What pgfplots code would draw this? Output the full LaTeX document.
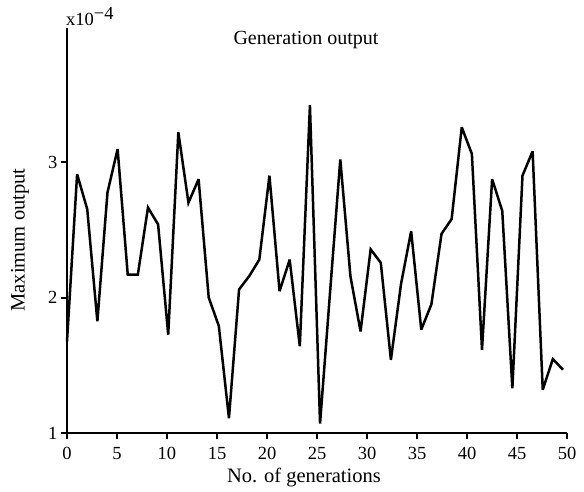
\documentclass[border=0pt]{standalone}
\usepackage{pgfplots}
\pgfplotsset{compat=1.18}
\usepackage{fontspec}
\setmainfont{Liberation Serif}
\pgfplotstableread{
x y
0.000 1.676
1.012 2.911
2.024 2.652
3.037 1.824
4.049 2.776
5.061 3.096
6.073 2.170
7.085 2.170
8.098 2.664
9.110 2.540
10.122 1.726
11.134 3.220
12.146 2.700
13.159 2.874
14.171 2.000
15.183 1.790
16.195 1.109
17.207 2.060
18.220 2.158
19.232 2.280
20.244 2.900
21.256 2.047
22.268 2.280
23.281 1.640
24.293 3.420
25.305 1.070
26.317 2.050
27.329 3.020
28.342 2.158
29.354 1.750
30.366 2.356
31.378 2.257
32.390 1.540
33.403 2.100
34.415 2.490
35.427 1.763
36.439 1.950
37.451 2.470
38.464 2.580
39.476 3.257
40.488 3.060
41.500 1.615
42.512 2.874
43.525 2.640
44.537 1.330
45.549 2.900
46.561 3.080
47.573 1.320
48.586 1.546
49.598 1.467
}\datatable
\begin{document}
\begin{tikzpicture}
\begin{axis}[
  scale only axis,
  width=500pt, height=405pt,
  xmin=0, xmax=50, ymin=1, ymax=3.99,
  axis x line*=bottom, axis y line*=left,
  axis line style={line width=2.8pt},
  xtick={0,5,...,50}, ytick={1,2,3},
  tick style={line width=2pt, black},
  tick align=outside, major tick length=6pt,
  /pgf/number format/assume math mode=true,
  ticklabel style={font=\fontsize{18.5}{20}\selectfont},
  xticklabel style={yshift=-5pt},
  xlabel={No. of generations},
  ylabel={Maximum output},
  label style={font=\fontsize{20.5}{23}\selectfont},
  xlabel style={at={(axis description cs:0.474,0)}, anchor=center, yshift=-44pt},
  ylabel style={at={(axis description cs:-0.094,0.4765)}, anchor=center},
  clip=false,
]
\addplot[black, line width=2.5pt, line join=miter, miter limit=4] table[x=x,y=y] {\datatable};
\node[font=\fontsize{20}{23}\selectfont] at (axis description cs:0.478,0.970) {Generation output};
\node[font=\fontsize{18.5}{20}\selectfont, anchor=south west, inner sep=0pt] at ([xshift=-1pt,yshift=2pt]rel axis cs:0,1) {x10$^{\textrm{−4}}$};
\coordinate (bl) at (rel axis cs:0,0);
\end{axis}
\path[use as bounding box] ([shift={(-67pt,-59pt)}]bl) rectangle ([shift={(517pt,433pt)}]bl);
\end{tikzpicture}
\end{document}
